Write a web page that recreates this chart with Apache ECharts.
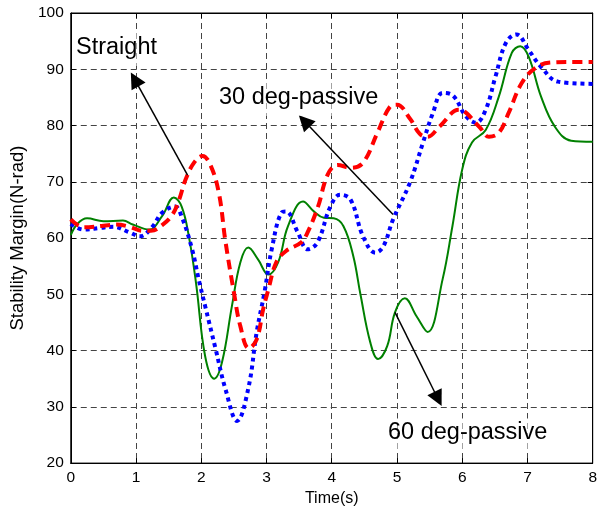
<!DOCTYPE html>
<html>
<head>
<meta charset="utf-8">
<script src="https://cdn.jsdelivr.net/npm/echarts@6/dist/echarts.min.js"></script>
<style>
html,body{margin:0;padding:0;background:#fff;}
#chart{width:600px;height:512px;}
</style>
</head>
<body>
<div id="chart"></div>
<script>
// ---- data ----
var straightT = [0, 0.2, 0.5, 0.7, 0.9, 1.1, 1.23, 1.41, 1.56, 1.66, 1.76, 1.89, 2.02, 2.14, 2.27, 2.37, 2.5, 2.6, 2.73, 2.85, 2.95, 3.03, 3.15, 3.3, 3.53, 3.63, 3.79, 3.94, 4.09, 4.29, 4.48, 4.7, 4.89, 5.0, 5.2, 5.35, 5.47, 5.65, 5.95, 6.26, 6.41, 6.56, 6.71, 6.91, 7.12, 7.36, 7.7, 8.0];
var straightV = [63.3, 61.9, 62.2, 62.4, 62, 61.3, 61.3, 62.4, 64.2, 66.8, 70.4, 73.4, 74.6, 73, 68, 59.5, 50.4, 44.3, 40.4, 42, 47.4, 50.9, 55.7, 57.7, 59.2, 61, 65.6, 71.3, 73, 72.5, 73.4, 78.7, 83.3, 83.7, 81.2, 78.5, 78, 79.8, 82.8, 79.8, 78, 78.7, 82.2, 87.5, 90.2, 91.2, 91.3, 91.3];

var deg30T = [0, 0.2, 0.45, 0.65, 0.9, 1.06, 1.25, 1.4, 1.6, 1.7, 1.86, 1.96, 2.06, 2.22, 2.37, 2.55, 2.72, 2.85, 2.97, 3.08, 3.23, 3.3, 3.48, 3.63, 3.78, 3.98, 4.13, 4.29, 4.48, 4.67, 4.79, 4.94, 5.2, 5.4, 5.55, 5.7, 5.85, 6.06, 6.21, 6.36, 6.51, 6.67, 6.83, 7.02, 7.21, 7.47, 8.0];
var deg30V = [62.5, 61.5, 61.8, 62, 61, 60.3, 62, 64.5, 65.6, 63.8, 58, 52.7, 47.9, 40.3, 33.2, 27.5, 33.2, 43.3, 50.4, 58, 64.5, 64.7, 61, 58, 59.2, 65.6, 67.7, 66.8, 60.3, 57.4, 58.5, 63.3, 69.9, 77, 82.2, 85.8, 85.4, 81.6, 80.5, 82.8, 88.7, 94.7, 96.2, 93.4, 90.4, 87.8, 87.4];

var deg60T = [0, 0.1, 0.25, 0.5, 0.8, 0.95, 1.2, 1.4, 1.58, 1.7, 1.81, 1.92, 2.06, 2.2, 2.32, 2.47, 2.6, 2.72, 2.87, 3.03, 3.18, 3.33, 3.56, 3.73, 3.88, 4.03, 4.18, 4.33, 4.44, 4.59, 4.71, 4.85, 4.97, 5.12, 5.3, 5.47, 5.7, 5.85, 6.0, 6.15, 6.36, 6.56, 6.76, 6.89, 7.02, 7.21, 7.42, 7.67, 8.0];
var deg60V = [60.5, 62.5, 63.5, 63, 63.1, 62.4, 61.5, 63.9, 67.2, 65.6, 60.3, 52, 39, 35, 38, 47.9, 55.7, 58.3, 56.2, 53.5, 55.7, 62.1, 66.5, 64.7, 63.6, 63.5, 62.1, 56.8, 50, 41.5, 38.5, 40.8, 46.8, 49.3, 46.1, 43.3, 52.7, 62.1, 72.2, 77, 79.2, 85.1, 92.9, 94.1, 92.2, 85.1, 79.8, 77.3, 77.1];

var xTicks = [0, 1, 2, 3, 4, 5, 6, 7, 8];
var yTicks = [20, 30, 40, 50, 60, 70, 80, 90, 100];

// annotation arrows: [tail, tip] in data coordinates
var arrowStraight = [[1.79, 71.2], [0.98, 88.2]];
var arrow30 = [[4.94, 64.2], [3.58, 80.8]];
var arrow60 = [[4.97, 46.8], [5.63, 31.4]];
var labelTexts = ['Straight', '30 deg-passive', '60 deg-passive'];

function zip(t, v) { return t.map(function (x, i) { return [x, v[i]]; }); }

var FONT = '"Liberation Sans", Arial, sans-serif';
var chart = echarts.init(document.getElementById('chart'), null, {renderer: 'canvas'});

function arrowLine(a) {
  return [{coord: a[0], symbol: 'none'}, {coord: a[1], symbol: 'path://M0,0 L6,16 L-6,16 Z'}];
}

var axisCommon = {
  type: 'value',
  axisLine: {show: true, onZero: false, lineStyle: {color: '#000', width: 1}},
  axisTick: {show: true, inside: true, length: 5, lineStyle: {color: '#000'}},
};

var option = {
  backgroundColor: '#fff',
  animation: false,
  grid: {left: 67, right: 5, top: 13, bottom: 48, show: true, borderColor: '#000', borderWidth: 1, backgroundColor: 'transparent'},
  xAxis: [
    Object.assign({}, axisCommon, {
      min: xTicks[0], max: xTicks[xTicks.length - 1], interval: 1,
      name: 'Time(s)', nameLocation: 'middle', nameGap: 27,
      nameTextStyle: {fontFamily: FONT, fontSize: 16, color: '#000'},
      axisLabel: {fontFamily: FONT, fontSize: 15.5, color: '#000', margin: 7},
      splitLine: {show: true, lineStyle: {color: '#444', type: [6, 4], width: 1}}
    }),
    Object.assign({}, axisCommon, {
      position: 'top', min: xTicks[0], max: xTicks[xTicks.length - 1], interval: 1,
      axisLabel: {show: false}, splitLine: {show: false}
    })
  ],
  yAxis: [
    Object.assign({}, axisCommon, {
      min: yTicks[0], max: yTicks[yTicks.length - 1], interval: 10,
      name: 'Stability Margin(N-rad)', nameLocation: 'middle', nameGap: 40,
      nameTextStyle: {fontFamily: FONT, fontSize: 18.5, color: '#000'},
      axisLabel: {fontFamily: FONT, fontSize: 15.5, color: '#000', margin: 7},
      splitLine: {show: true, lineStyle: {color: '#444', type: [6, 4], width: 1}}
    }),
    Object.assign({}, axisCommon, {
      position: 'right', min: yTicks[0], max: yTicks[yTicks.length - 1], interval: 10,
      axisLabel: {show: false}, splitLine: {show: false}
    })
  ],
  series: [
    {
      name: '60 deg-passive', type: 'line', data: zip(deg60T, deg60V),
      smooth: 0.4, showSymbol: false, symbol: 'none',
      lineStyle: {color: '#008000', width: 2}
    },
    {
      name: '30 deg-passive', type: 'line', data: zip(deg30T, deg30V),
      smooth: 0.4, showSymbol: false, symbol: 'none',
      lineStyle: {color: '#0000ff', width: 4, type: [4, 4]}
    },
    {
      name: 'Straight', type: 'line', data: zip(straightT, straightV),
      smooth: 0.4, showSymbol: false, symbol: 'none',
      lineStyle: {color: '#ff0000', width: 4, type: [10, 6]},
      markLine: {
        silent: true, animation: false,
        symbolSize: 16,
        label: {show: false},
        lineStyle: {color: '#000', width: 1.5, type: 'solid'},
        emphasis: {disabled: true},
        data: [arrowLine(arrowStraight), arrowLine(arrow30), arrowLine(arrow60)]
      }
    }
  ],
  graphic: [
    {type: 'text', z: 100, left: 72, top: 33,
     style: {text: labelTexts[0], font: '23.5px ' + FONT, fill: '#000', backgroundColor: 'rgba(255,255,255,0.5)', padding: [3, 4, 6, 4]}},
    {type: 'text', z: 100, left: 215, top: 83,
     style: {text: labelTexts[1], font: '23.5px ' + FONT, fill: '#000', backgroundColor: 'rgba(255,255,255,0.5)', padding: [3, 4, 6, 4]}},
    {type: 'text', z: 100, left: 384, top: 418,
     style: {text: labelTexts[2], font: '23.5px ' + FONT, fill: '#000', backgroundColor: 'rgba(255,255,255,0.5)', padding: [3, 4, 6, 4]}}
  ]
};
chart.setOption(option);
</script>
</body>
</html>
